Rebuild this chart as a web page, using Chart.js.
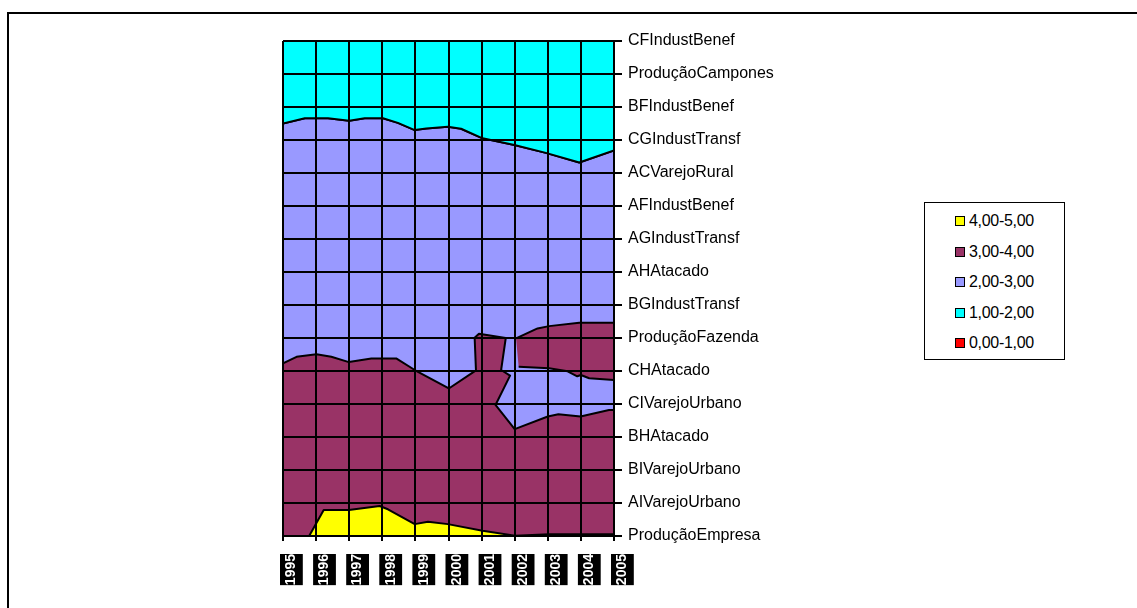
<!DOCTYPE html>
<html>
<head>
<meta charset="utf-8">
<title>Contorno por setor e ano</title>
<script src="https://cdn.jsdelivr.net/npm/chart.js@4.4.1/dist/chart.umd.min.js"></script>
<style>
  html, body { margin: 0; padding: 0; background: #fff; overflow: hidden; }
  body { width: 1137px; height: 608px; position: relative; font-family: "Liberation Sans", Arial, sans-serif; }
  #frame { position: absolute; left: 7px; top: 12px; width: 1300px; height: 800px;
           border-left: 2px solid #000; border-top: 2px solid #000; box-sizing: border-box; }
  #wrap { position: absolute; left: 0; top: 0; width: 1137px; height: 608px; }
  #legend { position: absolute; left: 924px; top: 202px; width: 141px; height: 158px;
            border: 1px solid #000; box-sizing: border-box; background: #fff; }
  #legend .item { position: absolute; left: 30px; height: 20px; line-height: 20px;
                  font-size: 16px; color: #000; white-space: nowrap; letter-spacing: -0.3px; }
  #legend .sw { display: inline-block; width: 8px; height: 8px; border: 1px solid #000;
                margin-right: 4px; vertical-align: 0px; }
</style>
</head>
<body>
<div id="frame"></div>
<div id="wrap"><canvas id="chart" width="1137" height="608"></canvas></div>
<div id="legend"></div>
<script>
// Years along the horizontal axis (grid vertices 0..10)
const years = [1995, 1996, 1997, 1998, 1999, 2000, 2001, 2002, 2003, 2004, 2005];

// Sectors along the vertical axis, bottom to top (grid vertices 0..15)
const categories = [
  'ProduçãoEmpresa', 'AIVarejoUrbano', 'BIVarejoUrbano', 'BHAtacado',
  'CIVarejoUrbano', 'CHAtacado', 'ProduçãoFazenda', 'BGIndustTransf',
  'AHAtacado', 'AGIndustTransf', 'AFIndustBenef', 'ACVarejoRural',
  'CGIndustTransf', 'BFIndustBenef', 'ProduçãoCampones', 'CFIndustBenef'
];

// Value bands of the contour map
const bandLabels = ['4,00-5,00', '3,00-4,00', '2,00-3,00', '1,00-2,00', '0,00-1,00'];
const bandColors = ['#FFFF00', '#993366', '#9999FF', '#00FFFF', '#FF0000'];

// Contour lines as [year index, sector index] vertices
const level2 = [
  [0, 12.50], [0.66, 12.66], [1.36, 12.66], [2.00, 12.58], [2.47, 12.66], [3.02, 12.66],
  [3.47, 12.52], [3.98, 12.30], [4.33, 12.35], [4.98, 12.40], [5.38, 12.34], [6.03, 12.05],
  [6.99, 11.85], [7.94, 11.61], [8.95, 11.32], [10, 11.68]
];
const level3 = [
  [0, 5.23], [0.41, 5.43], [1.01, 5.51], [1.46, 5.43], [1.99, 5.27], [2.67, 5.38],
  [3.42, 5.38], [3.98, 5.03], [5.01, 4.47], [5.83, 5.02], [5.79, 6.01], [5.92, 6.13],
  [6.73, 6.00], [6.59, 5.03], [6.86, 4.86], [6.42, 3.97], [7.00, 3.24], [8.00, 3.62],
  [8.32, 3.69], [8.99, 3.62], [9.85, 3.82], [10, 3.82]
];
const level3Island = [
  [7.04, 5.99], [7.69, 6.29], [8.04, 6.36], [8.95, 6.46], [10, 6.46], [10, 4.73],
  [9.25, 4.78], [9.00, 4.88], [8.89, 4.84], [8.60, 4.99], [8.04, 5.08], [7.12, 5.13]
];
const level4 = [
  [0.79, 0], [1.23, 0.79], [1.99, 0.79], [2.92, 0.91], [3.17, 0.81], [3.98, 0.36],
  [4.38, 0.43], [4.98, 0.36], [6.03, 0.16], [7.01, 0.01], [8.04, 0.05], [10, 0.05]
];

const xMin = 0, xMax = years.length - 1;
const yMin = 0, yMax = categories.length - 1;

const toPts = arr => arr.map(([x, y]) => ({ x, y }));

// Closed band shapes built from the contour lines and the map edges
const cyanShape = [[xMin, yMax], [xMax, yMax], ...level2.slice().reverse()];
const lavenderShape = [...level2, [xMax, yMin], [xMin, yMin]];
const maroonShape = [...level3, [xMax, yMin], [xMin, yMin]];
const yellowShape = [...level4, [xMax, yMin]];

function band(label, shape, color, order) {
  return {
    label,
    data: toPts(shape),
    showLine: true,
    fill: 'shape',
    backgroundColor: color,
    borderColor: '#000',
    borderWidth: 2,
    borderJoinStyle: 'round',
    pointRadius: 0,
    pointHoverRadius: 0,
    tension: 0,
    order
  };
}

new Chart(document.getElementById('chart'), {
  type: 'scatter',
  data: {
    datasets: [
      band(bandLabels[2], lavenderShape, bandColors[2], 5),
      band(bandLabels[3], cyanShape, bandColors[3], 4),
      band(bandLabels[1], maroonShape, bandColors[1], 3),
      band(bandLabels[1], level3Island, bandColors[1], 2),
      band(bandLabels[0], yellowShape, bandColors[0], 1)
    ]
  },
  options: {
    responsive: false,
    animation: false,
    events: [],
    layout: { padding: { left: 283, top: 41, right: 1137 - 614 - 200, bottom: 608 - 536 - 60 } },
    plugins: { legend: { display: false }, tooltip: { enabled: false } },
    scales: {
      x: {
        type: 'linear',
        min: xMin,
        max: xMax,
        afterFit: s => { s.height = 60; },
        grid: { color: '#000', lineWidth: 2, z: 1, tickLength: 5 },
        border: { color: '#000', width: 2, z: 1 },
        ticks: {
          stepSize: 1,
          autoSkip: false,
          minRotation: 90,
          maxRotation: 90,
          padding: 13,
          color: '#fff',
          showLabelBackdrop: true,
          backdropColor: '#000',
          backdropPadding: { top: 3, bottom: 3, left: 0, right: 0 },
          font: { family: 'Liberation Sans', size: 14, weight: 'bold' },
          callback: v => years[v]
        }
      },
      y: {
        type: 'linear',
        position: 'right',
        min: yMin,
        max: yMax,
        afterFit: s => { s.width = 200; },
        grid: { color: '#000', lineWidth: 2, z: 1, tickLength: 8 },
        border: { color: '#000', width: 2, z: 1 },
        ticks: {
          stepSize: 1,
          autoSkip: false,
          padding: 6,
          color: '#000',
          font: { family: 'Liberation Sans', size: 16 },
          callback: v => categories[v]
        }
      }
    }
  }
});

// Legend box listing the value bands
const legend = document.getElementById('legend');
const rowTops = [8, 38.5, 69, 99.5, 130];
bandLabels.forEach((lab, i) => {
  const row = document.createElement('div');
  row.className = 'item';
  row.style.top = rowTops[i] + 'px';
  const sw = document.createElement('span');
  sw.className = 'sw';
  sw.style.background = bandColors[i];
  row.appendChild(sw);
  row.appendChild(document.createTextNode(lab));
  legend.appendChild(row);
});
</script>
</body>
</html>
